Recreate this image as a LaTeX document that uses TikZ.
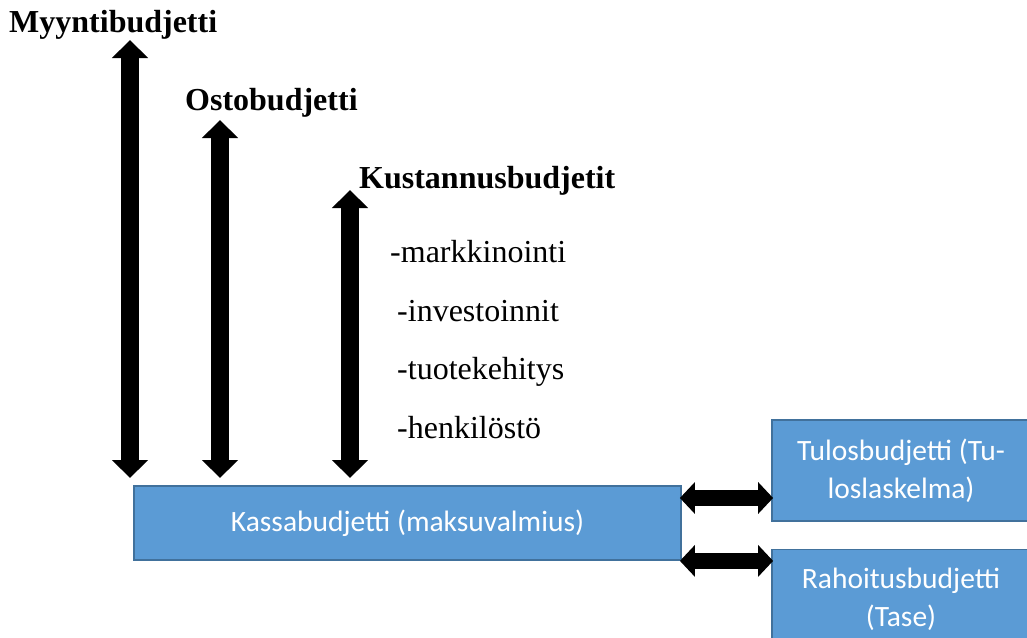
\documentclass[tikz,border=0pt]{standalone}
\usepackage{fontspec}
\setmainfont{Liberation Serif}
\newfontfamily\boxfont{Carlito}
\usetikzlibrary{arrows.meta}
\definecolor{boxfill}{HTML}{5B9BD5}
\definecolor{boxline}{HTML}{41719C}
\tikzset{
  head/.style={anchor=base west,inner sep=0pt,font=\fontsize{32}{38}\selectfont\bfseries},
  item/.style={anchor=base west,inner sep=0pt,font=\fontsize{32}{38}\selectfont},
  budget/.style={draw=boxline,line width=1.8pt,fill=boxfill,text=white,align=center,
    inner sep=0pt,font=\boxfont\fontsize{29.5}{38}\selectfont},
  vflow/.style={line width=18pt,{Triangle[width=35pt,length=18pt]}-{Triangle[width=35pt,length=18pt]}},
  hflow/.style={line width=16pt,{Triangle[width=31pt,length=15pt]}-{Triangle[width=31pt,length=15pt]}}
}
\begin{document}
\begin{tikzpicture}[x=1pt,y=-1pt]
\useasboundingbox (0,0) rectangle (1027,637);

% headings and cost items
\node[head] (myynti) at (9,32) {Myyntibudjetti};
\node[head] (osto) at (185,110) {Ostobudjetti};
\node[head] (kust) at (359,188) {Kustannusbudjetit};
\node[item] (i1) at (390,262) {-markkinointi};
\node[item] (i2) at (397,321) {-investoinnit};
\node[item] (i3) at (397,379) {-tuotekehitys};
\node[item] (i4) at (397,438) {-henkilöstö};

% budget boxes
\node[budget,minimum width=547pt,minimum height=74pt] (kassa) at (407.5,523) {\raisebox{3pt}{Kassabudjetti (maksuvalmius)}};
\node[budget,minimum width=258pt,minimum height=101pt] (tulos) at (901,470.5) {Tulosbudjetti (Tu-\\loslaskelma)};
\node[budget,minimum width=258pt,minimum height=100pt] (rahoitus) at (901,599.5) {Rahoitusbudjetti\\(Tase)};

% arrow end points
\coordinate (a1t) at (130,40);
\coordinate (a1b) at (130,478);
\coordinate (a2t) at (220,120);
\coordinate (a2b) at (220,478);
\coordinate (a3t) at (350,190);
\coordinate (a3b) at (350,478);

\draw[vflow] (a1b) -- (a1t);
\draw[vflow] (a2b) -- (a2t);
\draw[vflow] (a3b) -- (a3t);

\draw[hflow] ([xshift=-2pt]kassa.east |- 0,498) -- ([xshift=2pt]tulos.west |- 0,498);
\draw[hflow] ([xshift=-2pt]kassa.south east) -- ([xshift=2pt]rahoitus.west |- kassa.south east);
\end{tikzpicture}
\end{document}
